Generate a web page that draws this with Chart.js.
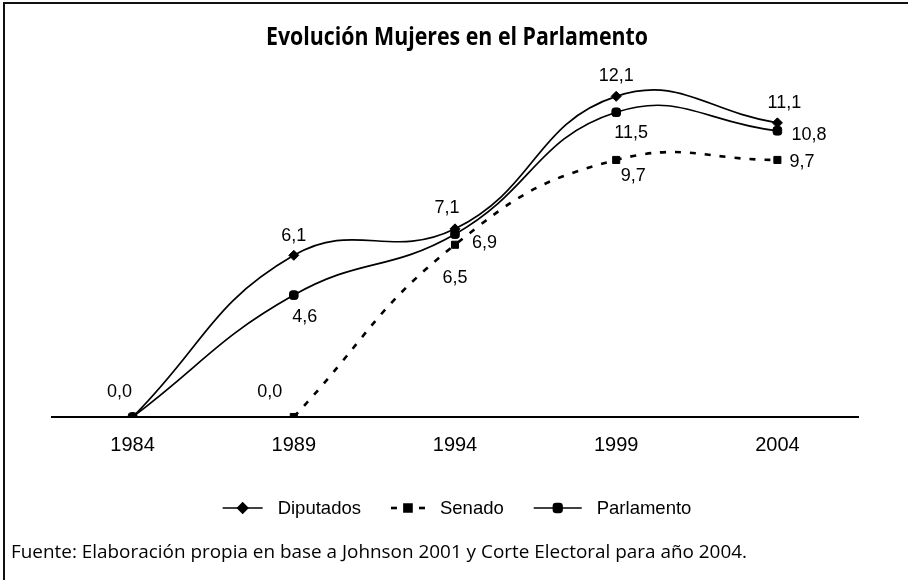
<!DOCTYPE html>
<html><head><meta charset="utf-8">
<script src="https://cdn.jsdelivr.net/npm/chart.js@4.4.0/dist/chart.umd.min.js"></script>
<style>html,body{margin:0;padding:0;background:#fff;overflow:hidden}canvas{display:block}</style>
</head><body>
<canvas id="c" width="908" height="580"></canvas>
<script>
// ---- data ----
const years = ['1984', '1989', '1994', '1999', '2004'];
const diputados = [0.0, 6.1, 7.1, 12.1, 11.1];
const senado = [null, 0.0, 6.5, 9.7, 9.7];
const parlamento = [0.0, 4.6, 6.9, 11.5, 10.8];
const seriesNames = ['Diputados', 'Senado', 'Parlamento'];
const titleText = 'Evolución Mujeres en el Parlamento';
const sourceText = 'Fuente: Elaboración propia en base a Johnson 2001 y Corte Electoral para año 2004.';

// ---- label placement (style only: [dx, dy, align]) ----
const labelPlace = [
  [[-13, -25, 'center'], [0, -19, 'center'], [-8, -21, 'center'], [0, -20, 'center'], [7, -20, 'center']],
  [null, [-24, -25, 'center'], [0, 33, 'center'], [17, 16, 'center'], [12, 2, 'left']],
  [null, [11, 22, 'center'], [17, 9, 'left'], [15, 21, 'center'], [14, 4, 'left']]
];

const fmt = v => v.toFixed(1).replace('.', ',');
const ARIAL = '"Liberation Sans", Arial, sans-serif';
const LABEL_FONT = '18px ' + ARIAL;
const LEGEND_FONT = '18.5px ' + ARIAL;

// draw text horizontally scaled so that it spans `target` px
function fitText(ctx, text, font, x, y, target, align) {
  ctx.font = font;
  const w = ctx.measureText(text).width;
  const sx = target / w;
  ctx.save();
  ctx.textAlign = 'left';
  const x0 = align === 'center' ? x - target / 2 : x;
  ctx.translate(x0, y);
  ctx.scale(sx, 1);
  ctx.fillText(text, 0, 0);
  ctx.restore();
}

const decor = {
  id: 'decor',
  beforeDraw(chart) {
    const ctx = chart.ctx;
    ctx.save();
    ctx.fillStyle = '#fff';
    ctx.fillRect(0, 0, chart.width, chart.height);
    ctx.strokeStyle = '#111';
    ctx.lineWidth = 2;
    ctx.beginPath();
    ctx.moveTo(4, 580);
    ctx.lineTo(4, 3);
    ctx.lineTo(908, 3);
    ctx.stroke();
    ctx.restore();
  },
  afterDraw(chart) {
    const ctx = chart.ctx;
    ctx.save();
    ctx.fillStyle = '#000';
    ctx.textBaseline = 'alphabetic';
    // title
    fitText(ctx, titleText, 'bold 25.5px "Open Sans", Lato, sans-serif', 457, 45, 382, 'center');
    // footer
    fitText(ctx, sourceText, '18.5px "Open Sans", Lato, sans-serif', 11, 558, 736, 'left');
    // data labels
    ctx.font = LABEL_FONT;
    ctx.textBaseline = 'middle';
    chart.data.datasets.forEach((ds, di) => {
      const meta = chart.getDatasetMeta(di);
      meta.data.forEach((pt, i) => {
        const v = ds.data[i];
        const p = labelPlace[di][i];
        if (v === null || !p) return;
        ctx.textAlign = p[2];
        ctx.fillText(fmt(v), pt.x + p[0], pt.y + p[1]);
      });
    });
    // legend
    ctx.font = LEGEND_FONT;
    const ly = 508;
    const symW = [40, 34, 48];
    const textGap = 15, itemGap = 30;
    const widths = seriesNames.map((n, k) => symW[k] + textGap + ctx.measureText(n).width);
    const total = widths.reduce((a, b) => a + b, 0) + itemGap * (seriesNames.length - 1);
    let x = 457 - total / 2;
    chart.data.datasets.forEach((ds, k) => {
      ctx.strokeStyle = '#000';
      ctx.lineWidth = ds.borderWidth;
      if (ds.borderDash) {
        ctx.beginPath(); ctx.moveTo(x, ly); ctx.lineTo(x + 6, ly); ctx.stroke();
        ctx.beginPath(); ctx.moveTo(x + symW[k] - 6, ly); ctx.lineTo(x + symW[k], ly); ctx.stroke();
      } else {
        ctx.beginPath(); ctx.moveTo(x, ly); ctx.lineTo(x + symW[k], ly); ctx.stroke();
      }
      ctx.fillStyle = '#000';
      Chart.helpers.drawPoint(ctx, {
        pointStyle: ds.pointStyle, radius: ds.pointRadius, rotation: 0,
        borderWidth: 1
      }, x + symW[k] / 2, ly);
      ctx.fillStyle = '#000';
      ctx.textAlign = 'left';
      ctx.fillText(seriesNames[k], x + symW[k] + textGap, ly + 1);
      x += widths[k] + itemGap;
    });
    ctx.restore();
  }
};

const common = {
  borderColor: '#000', pointBackgroundColor: '#000', pointBorderColor: '#000',
  pointBorderWidth: 1, fill: false, tension: 0.45, cubicInterpolationMode: 'default'
};

new Chart(document.getElementById('c'), {
  type: 'line',
  data: {
    labels: years,
    datasets: [
      Object.assign({}, common, { label: seriesNames[0], data: diputados, borderWidth: 1.7, pointStyle: 'rectRot', pointRadius: 5 }),
      Object.assign({}, common, { label: seriesNames[1], data: senado, borderWidth: 2.6, borderDash: [6, 9], pointStyle: 'rect', pointRadius: 5 }),
      Object.assign({}, common, { label: seriesNames[2], data: parlamento, borderWidth: 1.7, pointStyle: 'rectRounded', pointRadius: 5 })
    ]
  },
  options: {
    responsive: false, animation: false, devicePixelRatio: 1,
    layout: { padding: { left: 52, right: 50, top: 46, bottom: 0 } },
    plugins: { legend: { display: false }, title: { display: false }, tooltip: { enabled: false } },
    scales: {
      x: {
        offset: true,
        grid: { display: false, drawTicks: false },
        border: { display: true, color: '#000', width: 2 },
        ticks: { color: '#000', padding: 16, font: { family: '"Liberation Sans", Arial, sans-serif', size: 20 } },
        afterFit(s) { s.height = 163; }
      },
      y: { display: false, min: 0, max: 14 }
    }
  },
  plugins: [decor]
});
</script>
</body></html>
